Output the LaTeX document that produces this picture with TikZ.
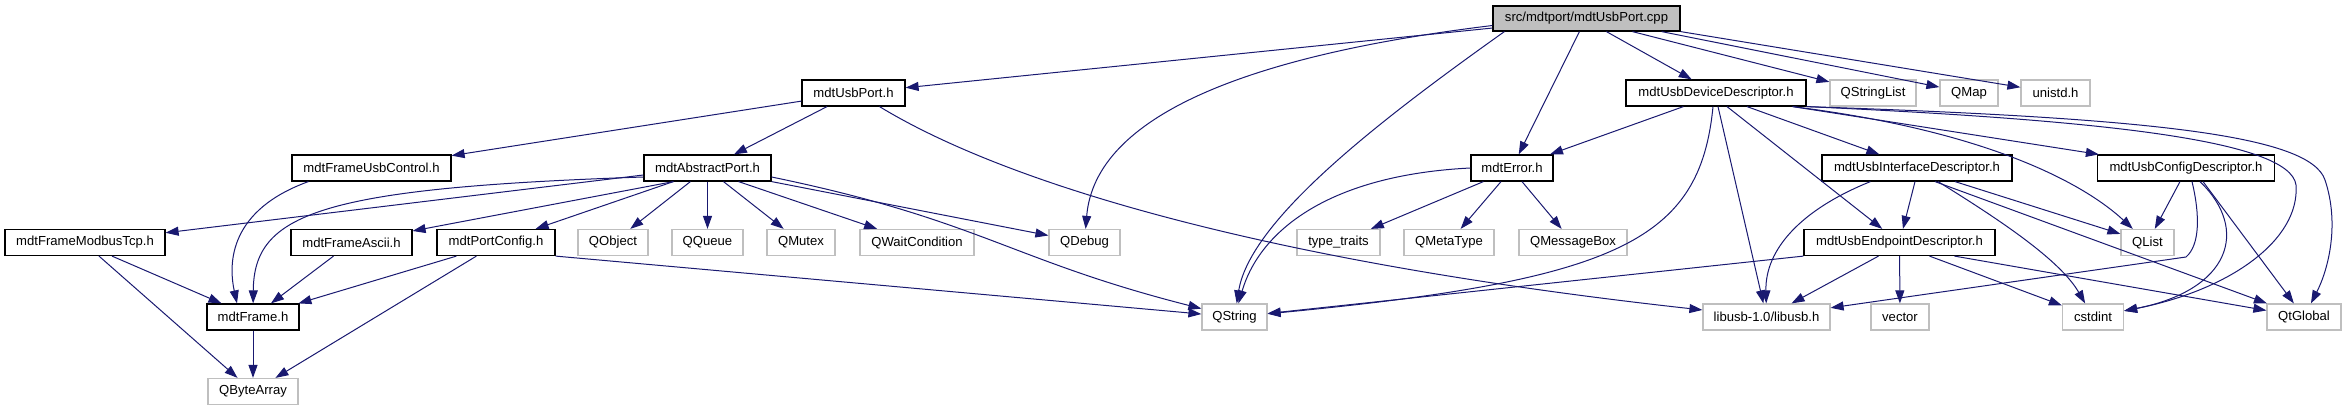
\documentclass[tikz,border=0pt]{standalone}
\usepackage{fontspec}
\setmainfont{Liberation Sans}
\usetikzlibrary{arrows.meta,calc}
\definecolor{edgeblue}{HTML}{191970}
\definecolor{extgray}{HTML}{BFBFBF}
\tikzset{
  box/.style={rectangle, inner sep=0pt, minimum height=26pt, line width=1.2pt,
    font=\fontsize{13.1}{15}\selectfont, fill=white},
  doc/.style={box, draw=black},
  ext/.style={box, draw=extgray},
  rootbox/.style={box, draw=black, fill=extgray, minimum height=25pt},
  edge/.style={draw=edgeblue, line width=1pt, -{Triangle[length=13pt,width=9pt]}}
}
\begin{document}
\begin{tikzpicture}[x=1pt,y=-1pt]
\useasboundingbox (0,0) rectangle (2345,411);
% row 0
\node[rootbox, minimum width=187pt] (root) at (1586.5,18.5) {src/mdtport/mdtUsbPort.cpp};
% row 1
\node[doc, minimum width=103pt] (usbport) at (853.5,93) {mdtUsbPort.h};
\node[doc, minimum width=180pt] (devdesc) at (1716,93) {mdtUsbDeviceDescriptor.h};
\node[ext, minimum width=86pt] (qstringlist) at (1873,93) {QStringList};
\node[ext, minimum width=58pt] (qmap) at (1969,93) {QMap};
\node[ext, minimum width=69pt] (unistd) at (2055.5,93) {unistd.h};
% row 2
\node[doc, minimum width=159pt] (fuc) at (371.5,168) {mdtFrameUsbControl.h};
\node[doc, minimum width=127pt] (abstract) at (707.5,168) {mdtAbstractPort.h};
\node[doc, minimum width=82pt] (error) at (1512,168) {mdtError.h};
\node[doc, minimum width=190pt] (ifdesc) at (1917,168) {mdtUsbInterfaceDescriptor.h};
\node[doc, minimum width=177pt] (cfgdesc) at (2186,168) {mdtUsbConfigDescriptor.h};
% row 3
\node[doc, minimum width=160pt] (fmtcp) at (85,242.5) {mdtFrameModbusTcp.h};
\node[doc, minimum width=121pt] (fascii) at (351.5,242.5) {mdtFrameAscii.h};
\node[doc, minimum width=118pt] (portcfg) at (496,242.5) {mdtPortConfig.h};
\node[ext, minimum width=70pt] (qobject) at (613,242.5) {QObject};
\node[ext, minimum width=71pt] (qqueue) at (707.5,242.5) {QQueue};
\node[ext, minimum width=68pt] (qmutex) at (801,242.5) {QMutex};
\node[ext, minimum width=114pt] (qwait) at (917,242.5) {QWaitCondition};
\node[ext, minimum width=71pt] (qdebug) at (1084.5,242.5) {QDebug};
\node[ext, minimum width=83pt] (typetraits) at (1338.5,242.5) {type\_traits};
\node[ext, minimum width=90pt] (qmetatype) at (1449,242.5) {QMetaType};
\node[ext, minimum width=108pt] (qmsgbox) at (1573,242.5) {QMessageBox};
\node[doc, minimum width=191pt] (epdesc) at (1899.5,242.5) {mdtUsbEndpointDescriptor.h};
\node[ext, minimum width=53pt] (qlist) at (2147.5,242.5) {QList};
% row 4
\node[doc, minimum width=92pt] (frame) at (253,317) {mdtFrame.h};
\node[ext, minimum width=65pt] (qstring) at (1234.5,317) {QString};
\node[ext, minimum width=127pt] (libusb) at (1766.5,317) {libusb-1.0/libusb.h};
\node[ext, minimum width=58pt] (vector) at (1900,317) {vector};
\node[ext, minimum width=61pt] (cstdint) at (2093,317) {cstdint};
\node[ext, minimum width=74pt] (qtglobal) at (2304,317) {QtGlobal};
% row 5
\node[ext, minimum width=90pt] (qbytearray) at (253,391.5) {QByteArray};

% root edges
\draw[edge] (root) -- (usbport);
\draw[edge] ($(root.west)+(0,7)$) .. controls (1250,55) and (1095,115) .. (qdebug);
\draw[edge] ($(root.south west)+(12,0)$) .. controls (1380,120) and (1250,220) .. (qstring);
\draw[edge] ($(root.south west)+(87,0)$) -- (error);
\draw[edge] ($(root.south west)+(114,0)$) -- (devdesc);
\draw[edge] ($(root.south west)+(140,0)$) -- (qstringlist);
\draw[edge] ($(root.south east)+(-19,0)$) -- (qmap);
\draw[edge] (root.south east) -- (unistd);
% mdtUsbPort.h
\draw[edge] (usbport) -- (fuc);
\draw[edge] (usbport) -- (abstract);
\draw[edge] ($(usbport.south)+(26,0)$) .. controls (1000,180) and (1250,260) .. (libusb);
% mdtFrameUsbControl.h
\draw[edge] ($(fuc.south west)+(17,0)$) .. controls (230,210) and (228,262) .. ($(frame.north)+(-16,0)$);
% mdtAbstractPort.h
\draw[edge] ($(abstract.west)+(0,7)$) -- (fmtcp);
\draw[edge] ($(abstract.west)+(0,9)$) .. controls (318,188) and (254,214) .. (frame);
\draw[edge] ($(abstract.south west)+(30,0)$) -- (fascii);
\draw[edge] ($(abstract.south west)+(30,0)$) -- (portcfg);
\draw[edge] ($(abstract.south west)+(47,0)$) -- (qobject);
\draw[edge] (abstract) -- (qqueue);
\draw[edge] ($(abstract.south)+(16,0)$) -- (qmutex);
\draw[edge] ($(abstract.south east)+(-33,0)$) -- (qwait);
\draw[edge] (abstract.south east) -- (qdebug);
\draw[edge] ($(abstract.east)+(0,9)$) .. controls (980,220) and (1010,260) .. (qstring);
% frames
\draw[edge] ($(fmtcp.south)+(27,0)$) -- (frame);
\draw[edge] ($(fmtcp.south)+(14,0)$) -- (qbytearray);
\draw[edge] (fascii) -- (frame);
\draw[edge] ($(portcfg.south west)+(20,0)$) -- (frame);
\draw[edge] ($(portcfg.south west)+(40,0)$) -- (qbytearray);
\draw[edge] (portcfg.south east) -- (qstring);
\draw[edge] (frame) -- (qbytearray);
% mdtUsbDeviceDescriptor.h
\draw[edge] ($(devdesc.south west)+(58,0)$) -- (error);
\draw[edge] ($(devdesc.south)+(-3,0)$) .. controls (1700,240) and (1620,280) .. (qstring);
\draw[edge] ($(devdesc.south)+(2,0)$) -- (libusb);
\draw[edge] ($(devdesc.south)+(11,0)$) -- (epdesc);
\draw[edge] ($(devdesc.south)+(31,0)$) -- (ifdesc);
\draw[edge] ($(devdesc.south east)+(-14,0)$) -- (cfgdesc);
\draw[edge] ($(devdesc.south east)+(-14,0)$) .. controls (1980,130) and (2080,180) .. (qlist);
\draw[edge] (devdesc.south east) .. controls (2100,120) and (2290,140) .. (2296,185) .. controls (2300,240) and (2230,290) .. (cstdint);
\draw[edge] (devdesc.south east) .. controls (2150,118) and (2310,135) .. (2325,180) .. controls (2340,225) and (2328,270) .. (qtglobal);
% mdtError.h
\draw[edge] (error.west) .. controls (1330,175) and (1260,230) .. (qstring);
\draw[edge] ($(error.south west)+(13,0)$) -- (typetraits);
\draw[edge] ($(error.south)+(-11,0)$) -- (qmetatype);
\draw[edge] ($(error.south)+(10,0)$) -- (qmsgbox);
% mdtUsbInterfaceDescriptor.h
\draw[edge] ($(ifdesc.south)+(-2,0)$) -- (epdesc);
\draw[edge] ($(ifdesc.south west)+(49,0)$) .. controls (1800,210) and (1765,250) .. (libusb);
\draw[edge] ($(ifdesc.south)+(21,0)$) .. controls (2000,220) and (2060,260) .. (cstdint);
\draw[edge] ($(ifdesc.south)+(38,0)$) -- (qlist);
\draw[edge] ($(ifdesc.south)+(18,0)$) -- (qtglobal);
% mdtUsbConfigDescriptor.h
\draw[edge] ($(cfgdesc.south)+(-6,0)$) -- (qlist);
\draw[edge] ($(cfgdesc.south)+(6,0)$) .. controls (2200,215) and (2200,245) .. (2186,257) -- (libusb);
\draw[edge] ($(cfgdesc.south)+(14,0)$) .. controls (2250,230) and (2230,290) .. (cstdint);
\draw[edge] ($(cfgdesc.south)+(17,0)$) -- (qtglobal);
% mdtUsbEndpointDescriptor.h
\draw[edge] (epdesc.south west) -- (qstring);
\draw[edge] ($(epdesc.south)+(-21,0)$) -- (libusb);
\draw[edge] (epdesc) -- (vector);
\draw[edge] ($(epdesc.south)+(30,0)$) -- (cstdint);
\draw[edge] ($(epdesc.south)+(55,0)$) -- (qtglobal);
\end{tikzpicture}
\end{document}
